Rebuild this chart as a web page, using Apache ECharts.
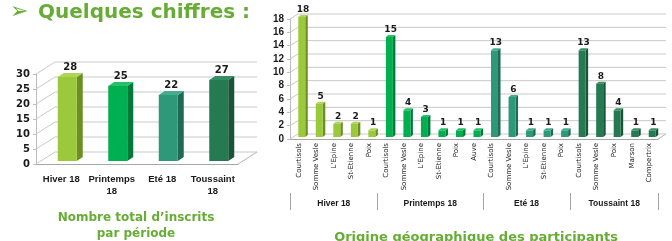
<!DOCTYPE html>
<html>
<head>
<meta charset="utf-8">
<script src="https://cdn.jsdelivr.net/npm/echarts@6/dist/echarts.min.js"></script>
<style>
  html, body { margin: 0; padding: 0; background: #fff; }
  #chart { width: 672px; height: 241px; }
</style>
</head>
<body>
<div id="chart"></div>
<script>
// nombre total d'inscrits par période
const periods = ['Hiver 18', 'Printemps\n18', 'Eté 18', 'Toussaint\n18']
const totals = [28, 25, 22, 27]
const totalTicks = [0, 5, 10, 15, 20, 25, 30]

// origine géographique, par période
const groupNames = ['Hiver 18', 'Printemps 18', 'Eté 18', 'Toussaint 18']
const placesHiver = ['Courtisols', 'Somme Vesle', "L'Epine", 'St-Etienne', 'Poix']
const valuesHiver = [18, 5, 2, 2, 1]
const placesPrintemps = ['Courtisols', 'Somme Vesle', "L'Epine", 'St-Etienne', 'Poix', 'Auve']
const valuesPrintemps = [15, 4, 3, 1, 1, 1]
const placesEte = ['Courtisols', 'Somme Vesle', "L'Epine", 'St-Etienne', 'Poix']
const valuesEte = [13, 6, 1, 1, 1]
const placesToussaint = ['Courtisols', 'Somme Vesle', 'Poix', 'Marson', 'Compertrix']
const valuesToussaint = [13, 8, 4, 1, 1]
const originTicks = [0, 2, 4, 6, 8, 10, 12, 14, 16, 18]

// couleurs : face, côté, dessus
const palette = [
  ['#9BC93B', '#6C8E22', '#AED656'],
  ['#00B050', '#00793A', '#22C266'],
  ['#2E9979', '#1E6A54', '#43AD8D'],
  ['#257A52', '#185437', '#358E64']
]

const groups = [
  [placesHiver, valuesHiver],
  [placesPrintemps, valuesPrintemps],
  [placesEte, valuesEte],
  [placesToussaint, valuesToussaint]
]
const places = []
const originData = []
const bounds = [0]
groups.forEach((g, gi) => {
  g[0].forEach((p, i) => {
    originData.push([places.length, g[1][i], gi])
    places.push(p)
  })
  bounds.push(places.length)
})
const groupCenters = groupNames.map((n, i) => (bounds[i] + bounds[i + 1]) / 2)

const green = '#66AC35'
const textCol = '#1a1a1a'
const font = 'DejaVu Sans'
const narrow = 'Liberation Sans'

// barre en relief (face, côté, dessus + étiquette)
function bar3d (opt) {
  return function (params, api) {
    const idx = api.value(0)
    const val = api.value(1)
    const col = palette[api.value(2)]
    const c = api.coord([idx, val])
    const b = api.coord([idx, 0])
    const x = c[0] + opt.dx - opt.w / 2
    const top = c[1] + opt.dy
    const base = b[1] + opt.dy
    const sw = opt.sw
    const sr = opt.sr
    return {
      type: 'group',
      children: [
        { type: 'polygon', shape: { points: [[x + opt.w, top], [x + opt.w + sw, top - sr], [x + opt.w + sw, base - sr], [x + opt.w, base]] }, style: { fill: col[1] } },
        { type: 'polygon', shape: { points: [[x, top], [x + sw, top - sr], [x + opt.w + sw, top - sr], [x + opt.w, top]] }, style: { fill: col[2] } },
        { type: 'rect', shape: { x: x, y: top, width: opt.w, height: base - top }, style: { fill: col[0] } },
        { type: 'text', x: x + (opt.w + sw) / 2, y: top - sr - 1, style: { text: String(val), fill: textCol, font: 'bold ' + opt.fs + 'px "' + font + '"', align: 'center', verticalAlign: 'bottom' } }
      ]
    }
  }
}

// fond 3D : lignes de grille décalées vers l'arrière
function wall (opt) {
  return function (params, api) {
    const cs = params.coordSys
    const y = api.coord([0, api.value(1)])[1]
    const x0 = cs.x
    const x1 = cs.x + cs.width
    const children = [
      { type: 'polyline', shape: { points: [[x0, y], [x0 + opt.dx, y + opt.dy], [x1 + opt.dx, y + opt.dy]] }, style: { stroke: '#c9c9c9', lineWidth: 1, fill: null } }
    ]
    if (params.dataIndex === 0) {
      children.push({ type: 'line', shape: { x1: x1, y1: y, x2: x1 + opt.dx, y2: y + opt.dy }, style: { stroke: '#b5b5b5', lineWidth: 1 } })
    }
    return { type: 'group', children: children }
  }
}

const chart = echarts.init(document.getElementById('chart'), null, { renderer: 'canvas' })

chart.setOption({
  animation: false,
  textStyle: { fontFamily: font },
  grid: [
    { left: 36, top: 74, width: 202, height: 90 },
    { left: 290, top: 19, width: 368, height: 120 }
  ],
  xAxis: [
    {
      gridIndex: 0,
      type: 'category',
      data: periods,
      axisLine: { lineStyle: { color: '#a6a6a6' } },
      axisTick: { length: 4, lineStyle: { color: '#a6a6a6' } },
      axisLabel: { interval: 0, margin: 9, fontSize: 9.5, fontFamily: narrow, fontWeight: 'bold', color: textCol, lineHeight: 12 }
    },
    {
      gridIndex: 1,
      type: 'category',
      data: places,
      axisLine: { lineStyle: { color: '#a6a6a6' } },
      axisTick: { interval: 0, length: 54, lineStyle: { color: '#a6a6a6' } },
      axisLabel: { interval: 0, rotate: 90, margin: 4, fontSize: 7, color: textCol }
    },
    {
      gridIndex: 1,
      type: 'value',
      min: 0,
      max: places.length,
      position: 'bottom',
      offset: 54,
      axisLine: { show: false },
      splitLine: { show: false },
      axisTick: { show: true, length: 17, customValues: bounds, lineStyle: { color: '#a6a6a6' } },
      axisLabel: {
        margin: 6,
        fontSize: 8.5,
        fontFamily: narrow,
        fontWeight: 'bold',
        color: textCol,
        customValues: groupCenters,
        formatter: v => groupNames[groupCenters.indexOf(v)] || ''
      }
    }
  ],
  yAxis: [
    {
      gridIndex: 0,
      type: 'value',
      min: 0,
      max: 30,
      interval: 5,
      splitLine: { show: false },
      axisLine: { show: true, lineStyle: { color: '#bdbdbd' } },
      axisTick: { show: true, length: 3, lineStyle: { color: '#bdbdbd' } },
      axisLabel: { margin: 6, fontSize: 10, fontWeight: 'bold', color: textCol }
    },
    {
      gridIndex: 1,
      type: 'value',
      min: 0,
      max: 18,
      interval: 2,
      splitLine: { show: false },
      axisLine: { show: true, lineStyle: { color: '#bdbdbd' } },
      axisTick: { show: true, length: 3, lineStyle: { color: '#bdbdbd' } },
      axisLabel: { margin: 6, fontSize: 10, fontFamily: narrow, fontWeight: 'bold', color: textCol }
    }
  ],
  series: [
    {
      type: 'custom',
      xAxisIndex: 0,
      yAxisIndex: 0,
      z: 1,
      silent: true,
      renderItem: wall({ dx: 19, dy: -12 }),
      encode: { x: 0, y: 1 },
      data: totalTicks.map(v => [0, v])
    },
    {
      type: 'custom',
      xAxisIndex: 1,
      yAxisIndex: 1,
      z: 1,
      silent: true,
      renderItem: wall({ dx: 8, dy: -5 }),
      encode: { x: 0, y: 1 },
      data: originTicks.map(v => [0, v])
    },
    {
      type: 'custom',
      xAxisIndex: 0,
      yAxisIndex: 0,
      z: 3,
      renderItem: bar3d({ dx: 6, dy: -3, w: 19, sw: 6, sr: 4, fs: 10 }),
      encode: { x: 0, y: 1 },
      data: totals.map((v, i) => [i, v, i])
    },
    {
      type: 'custom',
      xAxisIndex: 1,
      yAxisIndex: 1,
      z: 3,
      renderItem: bar3d({ dx: 3, dy: -2, w: 7, sw: 2.5, sr: 2, fs: 9 }),
      encode: { x: 0, y: 1 },
      data: originData
    }
  ],
  graphic: [
    { type: 'text', left: 10, top: 1, style: { text: '➢', fill: green, font: 'bold 22px "DejaVu Sans"' } },
    { type: 'text', left: 38, top: 3, style: { text: 'Quelques chiffres :', fill: green, font: 'bold 20px "DejaVu Sans"' } },
    { type: 'text', x: 136, y: 210, style: { text: 'Nombre total d’inscrits\npar période', fill: green, font: 'bold 12px "DejaVu Sans"', align: 'center', lineHeight: 16 } },
    { type: 'text', x: 476, y: 231, style: { text: 'Origine géographique des participants', fill: green, font: 'bold 13px "DejaVu Sans"', align: 'center' } }
  ]
})
</script>
</body>
</html>
